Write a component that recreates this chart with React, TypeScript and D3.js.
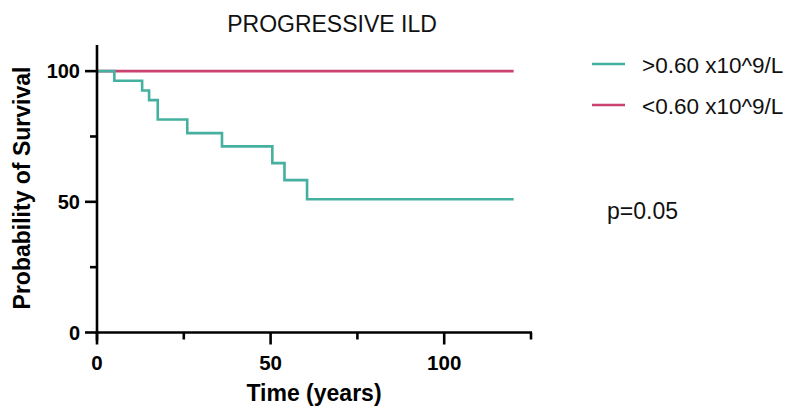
import React from 'react';
import * as d3 from 'd3';

// Kaplan-Meier steps (time in years, survival %)
const highTimes = [0, 5, 13, 15, 17.5, 26, 36, 50.5, 54, 60.5, 120];
const highSurv = [100, 96.3, 92.6, 88.9, 81.5, 76.3, 71.2, 64.8, 58.3, 51, 51];
const lowTimes = [0, 120];
const lowSurv = [100, 100];

const seriesNames = ['>0.60 x10^9/L', '<0.60 x10^9/L'];
const seriesColors = ['#45b09f', '#c9416d'];
const xTicks = [0, 25, 50, 75, 100, 125];
const xLabels = [0, 50, 100];
const yTicks = [0, 25, 50, 75, 100];
const yLabels = [0, 50, 100];

const App = () => {
    const w = 791;
    const h = 410;
    const x = d3.scaleLinear().domain([0, 125]).range([97, 531]);
    const y = d3.scaleLinear().domain([0, 110]).range([332.5, 45]);

    const line = d3.line<[number, number]>()
        .x(d => x(d[0]))
        .y(d => y(d[1]))
        .curve(d3.curveStepAfter);

    const high = highTimes.map((t, i) => [t, highSurv[i]] as [number, number]);
    const low = lowTimes.map((t, i) => [t, lowSurv[i]] as [number, number]);

    const font = 'Liberation Sans, Arial, sans-serif';
    // labelled ticks are long, the ones in between are short
    const tickLen = (t: number, labels: number[]) => (labels.includes(t) ? 12 : 7);

    return (
        <svg width={w} height={h} style={{position: 'absolute', left: 0, top: 0}} fontFamily={font}>
            <rect width={w} height={h} fill="#fff" />
            <text x={332} y={32} fontSize={23} textAnchor="middle" fill="#111">PROGRESSIVE ILD</text>

            {/* curves */}
            <path d={line(low) || ''} fill="none" stroke={seriesColors[1]} strokeWidth={2.6} />
            <path d={line(high) || ''} fill="none" stroke={seriesColors[0]} strokeWidth={2.6} />

            {/* y axis */}
            <line x1={x(0)} x2={x(0)} y1={y(110)} y2={y(0) + 8} stroke="#000" strokeWidth={2.6} />
            {yTicks.map(t => (
                <line key={t} x1={x(0) - tickLen(t, yLabels)} x2={x(0)} y1={y(t)} y2={y(t)} stroke="#000" strokeWidth={2.6} />
            ))}
            {yLabels.map(t => (
                <text key={t} x={x(0) - 17} y={y(t) + 7} fontSize={20} fontWeight="bold" textAnchor="end">{t}</text>
            ))}
            <text transform={`translate(30,${188}) rotate(-90)`} fontSize={23} fontWeight="bold" textAnchor="middle">Probability of Survival</text>

            {/* x axis */}
            <line x1={x(0) - 1} x2={x(125) + 1} y1={y(0)} y2={y(0)} stroke="#000" strokeWidth={2.6} />
            {xTicks.map(t => (
                <line key={t} x1={x(t)} x2={x(t)} y1={y(0)} y2={y(0) + tickLen(t, xLabels)} stroke="#000" strokeWidth={2.6} />
            ))}
            {xLabels.map(t => (
                <text key={t} x={x(t)} y={370} fontSize={20.5} fontWeight="bold" textAnchor="middle">{t}</text>
            ))}
            <text x={x(62.5)} y={401} fontSize={23} fontWeight="bold" textAnchor="middle">Time (years)</text>

            {/* legend */}
            {seriesNames.map((n, i) => (
                <g key={n} transform={`translate(592,${64 + i * 41})`}>
                    <line x1={0} x2={33} y1={0} y2={0} stroke={seriesColors[i]} strokeWidth={2.6} />
                    <text x={50} y={9} fontSize={22.5} fill="#111">{n}</text>
                </g>
            ))}
            <text x={607} y={219} fontSize={23} fill="#111">p=0.05</text>
        </svg>
    );
};

export default App;
